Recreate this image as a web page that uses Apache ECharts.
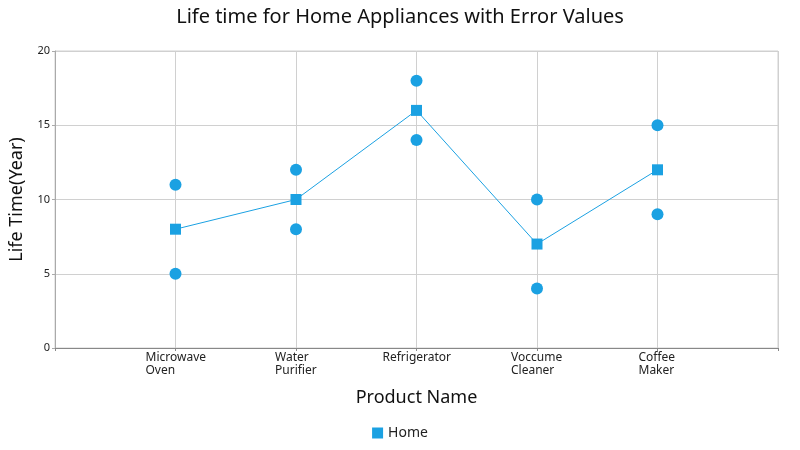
<!DOCTYPE html>
<html><head><meta charset="utf-8">
<script src="https://cdn.jsdelivr.net/npm/echarts@6/dist/echarts.min.js"></script>
<style>html,body{margin:0;padding:0;background:#fff}#c{width:800px;height:450px}</style>
</head><body><div id="c"></div>
<script>
const categories = ['', 'Microwave\nOven', 'Water\nPurifier', 'Refrigerator', 'Voccume\nCleaner', 'Coffee\nMaker', ''];
const meanValues = ['-', 8, 10, 16, 7, 12, '-'];
const highValues = ['-', 11, 12, 18, 10, 15, '-'];
const lowValues = ['-', 5, 8, 14, 4, 9, '-'];
const yTicks = [0, 5, 10, 15, 20];

const color = '#1BA1E2';
const font = 'Noto Sans';
const labelWidths = {1: 60, 2: 42, 3: 68, 4: 52, 5: 38};
const rich = {};
Object.keys(labelWidths).forEach(k => { rich['l' + k] = {width: labelWidths[k], align: 'left', fontFamily: font, fontSize: 12, lineHeight: 13, color: '#222'}; });

const chart = echarts.init(document.getElementById('c'), null, {renderer: 'canvas'});
chart.setOption({
  animation: false,
  title: {text: 'Life time for Home Appliances with Error Values', left: 'center', top: 2,
    textStyle: {fontFamily: font, fontSize: 20, fontWeight: 'normal', color: '#111'}},
  legend: {data: [{name: 'Home', icon: 'rect'}], bottom: 5, left: 'center', itemWidth: 11, itemHeight: 11,
    textStyle: {fontFamily: font, fontSize: 14, color: '#222'}},
  grid: {left: 53, right: 22, top: 51, bottom: 102, show: true, borderColor: '#d0d0d0', borderWidth: 1},
  xAxis: {type: 'category', data: categories, boundaryGap: false,
    name: 'Product Name', nameLocation: 'middle', nameGap: 41,
    nameTextStyle: {fontFamily: font, fontSize: 18, color: '#111'},
    axisLine: {lineStyle: {color: '#888'}},
    axisTick: {show: true, length: 3, lineStyle: {color: '#888'}},
    splitLine: {show: true, lineStyle: {color: '#d0d0d0'}},
    axisLabel: {interval: 0, margin: 3, formatter: (v, i) => v ? '{l' + i + '|' + v + '}' : '', rich: rich}},
  yAxis: {type: 'value', min: yTicks[0], max: yTicks[yTicks.length - 1], interval: 5,
    name: 'Life Time(Year)', nameLocation: 'middle', nameGap: 29,
    nameTextStyle: {fontFamily: font, fontSize: 18, color: '#111'},
    axisLine: {show: true, lineStyle: {color: '#aaa'}},
    axisTick: {show: true, length: 3, lineStyle: {color: '#aaa'}},
    splitLine: {show: true, lineStyle: {color: '#d0d0d0'}},
    axisLabel: {fontFamily: font, fontSize: 11, color: '#222', margin: 5}},
  series: [
    {name: 'Home', type: 'line', data: meanValues, symbol: 'rect', symbolSize: 11,
      itemStyle: {color: color, opacity: 1}, lineStyle: {color: color, width: 1}, z: 3},
    {name: 'High', type: 'scatter', data: highValues, symbol: 'circle', symbolSize: 12,
      itemStyle: {color: color, opacity: 1}, z: 3},
    {name: 'Low', type: 'scatter', data: lowValues, symbol: 'circle', symbolSize: 12,
      itemStyle: {color: color, opacity: 1}, z: 3}
  ]
});
</script></body></html>
